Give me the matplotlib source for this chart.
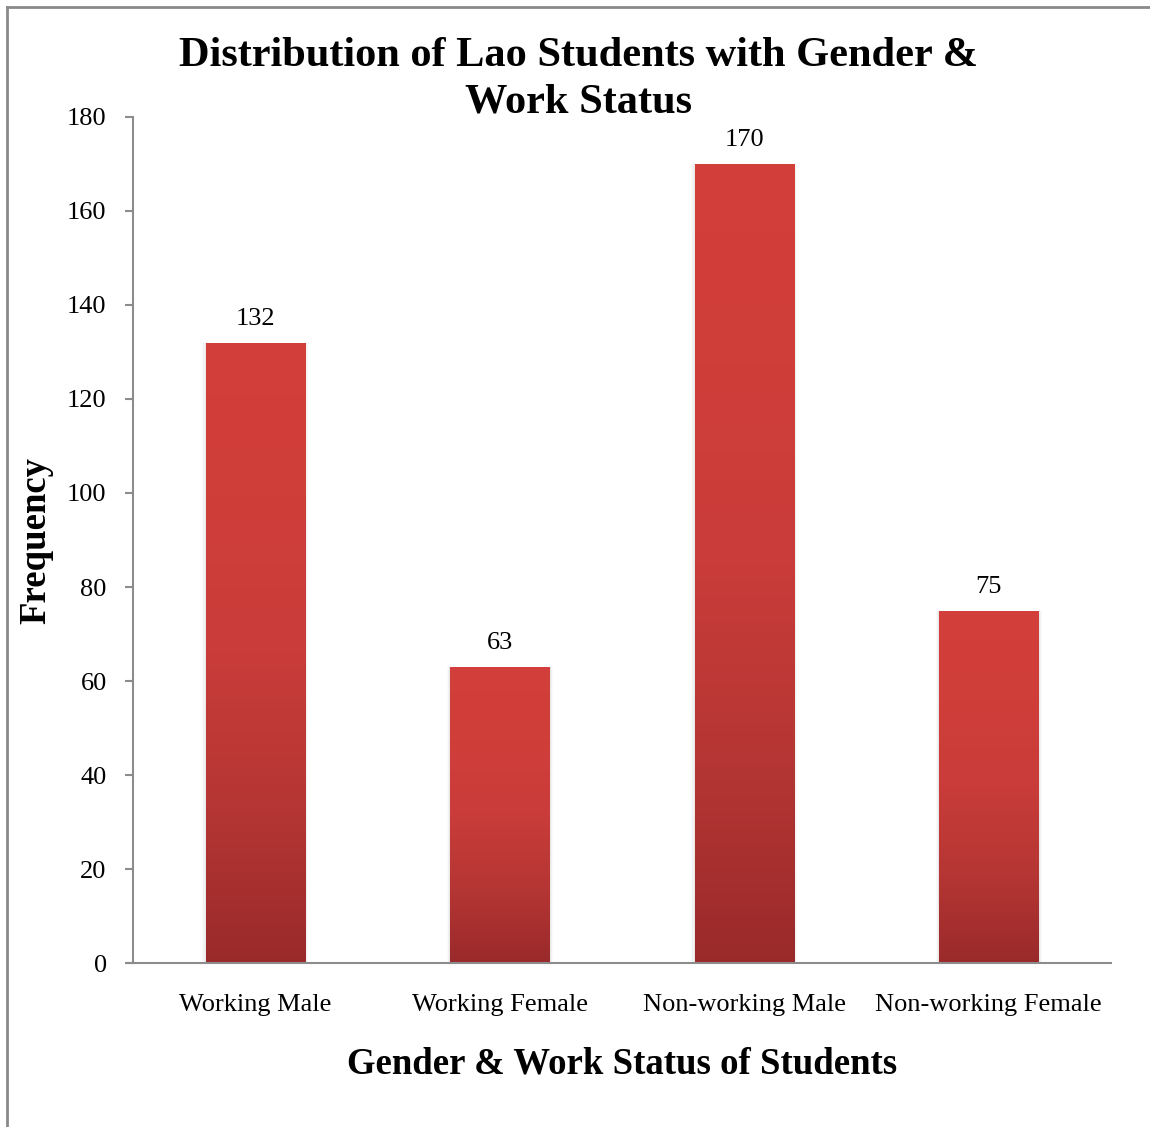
import matplotlib
matplotlib.use('Agg')
import matplotlib.pyplot as plt
import numpy as np
from matplotlib.colors import LinearSegmentedColormap
from matplotlib.lines import Line2D
from matplotlib.patches import Rectangle

plt.rcParams['font.family'] = ['Liberation Serif', 'DejaVu Serif']

categories = ['Working Male', 'Working Female', 'Non-working Male', 'Non-working Female']
counts = [132, 63, 170, 75]
yticks = [0, 20, 40, 60, 80, 100, 120, 140, 160, 180]

title = 'Distribution of Lao Students with Gender &\nWork Status'
xlabel = 'Gender & Work Status of Students'
ylabel = 'Frequency'

grey = '#8c8c8c'
bar_width = 0.405
# dark at the base, bright at the top of each bar
grad = LinearSegmentedColormap.from_list(
    'bar', ['#9a2a2a', '#b53634', '#c93c39', '#d03e3a', '#d33f39'])

fig = plt.figure(figsize=(11.5, 11.27), dpi=100)
ax = fig.add_axes([0.1157, 0.1455, 0.8504, 0.7507])

x = np.arange(len(categories))
bars = ax.bar(x, counts, width=bar_width, color='none', edgecolor='none', zorder=3)

ramp = np.linspace(0, 1, 256).reshape(-1, 1)
for b, v in zip(bars, counts):
    x0, w = b.get_x(), b.get_width()
    # faint shadow along the sides
    for k, a in enumerate([0.04, 0.03, 0.02]):
        d = 0.005 * (k + 1)
        ax.add_patch(Rectangle((x0 - d, 0), w + 2 * d, v,
                               facecolor='black', alpha=a, edgecolor='none',
                               zorder=2))
    im = ax.imshow(ramp, cmap=grad, aspect='auto', origin='lower',
                   extent=(x0, x0 + w, 0, v), zorder=3)
    im.set_clip_path(b)
    ax.annotate(str(v), xy=(x0 + w / 2, v), xytext=(0, 9),
                textcoords='offset points', ha='center', va='bottom',
                fontsize=19)

ax.set_xlim(-0.5, len(categories) - 0.5)
ax.set_ylim(0, 180)
ax.set_yticks(yticks)
ax.set_xticks(x)
ax.set_xticklabels(categories, fontsize=19)
ax.tick_params(axis='y', labelsize=19, length=6, width=1.5, color=grey, pad=13)
ax.tick_params(axis='x', length=0, pad=22)

for side in ['top', 'right']:
    ax.spines[side].set_visible(False)
for side in ['left', 'bottom']:
    ax.spines[side].set_color(grey)
    ax.spines[side].set_linewidth(1.5)
ax.spines['bottom'].set_bounds(-0.5 - 6 / 244.5, len(categories) - 0.5)
ax.spines['bottom'].set_zorder(5)

ax.set_xlabel(xlabel, fontsize=26.5, fontweight='bold', labelpad=22)
ax.set_ylabel(ylabel, fontsize=26.5, fontweight='bold', labelpad=10)

fig.text(0.503, 0.9675, title, ha='center', va='top', fontsize=30.5,
         fontweight='bold', linespacing=1.32)

# chart-area frame: left and top edges only
fig.add_artist(Line2D([0.0065, 0.0065], [0, 0.9935], color='#8a8a8a', lw=2,
                      transform=fig.transFigure))
fig.add_artist(Line2D([0.0065, 1.0], [0.9935, 0.9935], color='#8a8a8a', lw=2,
                      transform=fig.transFigure))

fig.savefig('out.png', dpi=100)
